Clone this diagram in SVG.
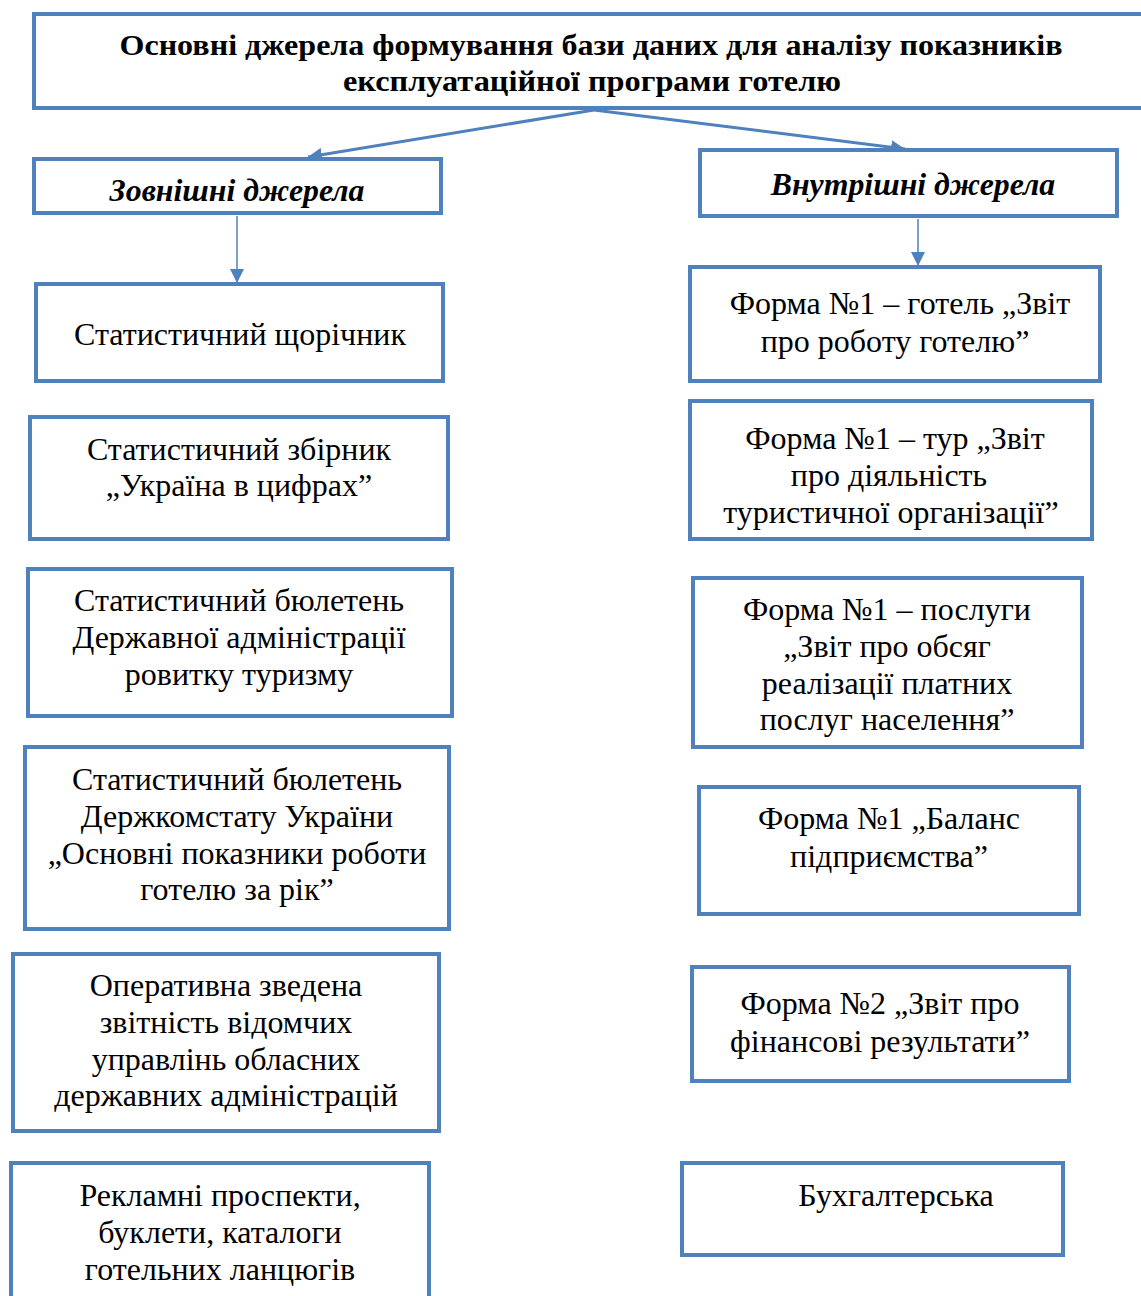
<svg xmlns="http://www.w3.org/2000/svg" width="1141" height="1296" viewBox="0 0 1141 1296">
<style>
.box{fill:#fff;stroke:#4f81bd;stroke-width:4}
.t{font-family:"Liberation Serif","Times New Roman",serif;font-size:32px;fill:#000;text-anchor:middle}
.h{font-family:"Liberation Serif","Times New Roman",serif;font-size:29px;font-weight:bold;fill:#000;text-anchor:middle}
.hi{font-family:"Liberation Serif","Times New Roman",serif;font-size:31.8px;font-weight:bold;font-style:italic;fill:#000;text-anchor:middle}
.c{stroke:#4f81bd;fill:none}
</style>
<defs>
<marker id="ah" viewBox="0 0 10 10" refX="10" refY="5" markerWidth="14" markerHeight="14" markerUnits="userSpaceOnUse" orient="auto">
<path d="M0,0 L10,5 L0,10 z" fill="#4f81bd"/>
</marker>
<clipPath id="cz"><rect x="36" y="161" width="403" height="50"/></clipPath>
<clipPath id="cr2"><rect x="692" y="403" width="398" height="134"/></clipPath>
</defs>
<rect width="1141" height="1296" fill="#fff"/>
<g id="connectors">
<line class="c" stroke-width="3" x1="594" y1="110" x2="308" y2="157" marker-end="url(#ah)"/>
<line class="c" stroke-width="3" x1="594" y1="110" x2="905" y2="149" marker-end="url(#ah)"/>
<line class="c" stroke-width="1.5" x1="237" y1="216" x2="237" y2="283" marker-end="url(#ah)"/>
<line class="c" stroke-width="1.5" x1="918" y1="219" x2="918" y2="266" marker-end="url(#ah)"/>
</g>
<g id="title">
<rect class="box" x="34" y="14" width="1120" height="94"/>
<text class="h" x="591" y="55" textLength="943" lengthAdjust="spacingAndGlyphs">Основні джерела формування бази даних для аналізу показників</text>
<text class="h" x="592" y="91" textLength="498" lengthAdjust="spacingAndGlyphs">експлуатаційної програми готелю</text>
</g>
<g id="external">
<rect class="box" x="34" y="159" width="407" height="54"/>
<text class="hi" x="237" y="201" clip-path="url(#cz)">Зовнішні джерела</text>
</g>
<g id="internal">
<rect class="box" x="700" y="150" width="417" height="66"/>
<text class="hi" x="913" y="195">Внутрішні джерела</text>
</g>
<g id="l1">
<rect class="box" x="36" y="284" width="407" height="97"/>
<text class="t" x="240" y="345">Статистичний щорічник</text>
</g>
<g id="l2">
<rect class="box" x="30" y="417" width="418" height="122"/>
<text class="t" x="239" y="460">Статистичний збірник</text>
<text class="t" x="239" y="496">„Україна в цифрах”</text>
</g>
<g id="l3">
<rect class="box" x="28" y="569" width="424" height="147"/>
<text class="t" x="239" y="611">Статистичний бюлетень</text>
<text class="t" x="239" y="648">Державної адміністрації</text>
<text class="t" x="239" y="685">ровитку туризму</text>
</g>
<g id="l4">
<rect class="box" x="25" y="747" width="424" height="182"/>
<text class="t" x="237" y="790">Статистичний бюлетень</text>
<text class="t" x="237" y="827">Держкомстату України</text>
<text class="t" x="237" y="864">„Основні показники роботи</text>
<text class="t" x="237" y="900">готелю за рік”</text>
</g>
<g id="l5">
<rect class="box" x="13" y="954" width="426" height="177"/>
<text class="t" x="226" y="996">Оперативна зведена</text>
<text class="t" x="226" y="1033">звітність відомчих</text>
<text class="t" x="226" y="1070">управлінь обласних</text>
<text class="t" x="226" y="1106">державних адміністрацій</text>
</g>
<g id="l6">
<rect class="box" x="11" y="1163" width="418" height="140"/>
<text class="t" x="220" y="1206">Рекламні проспекти,</text>
<text class="t" x="220" y="1243">буклети, каталоги</text>
<text class="t" x="220" y="1280">готельних ланцюгів</text>
</g>
<g id="r1">
<rect class="box" x="690" y="267" width="410" height="114"/>
<text class="t" x="900" y="314">Форма №1 – готель „Звіт</text>
<text class="t" x="895" y="352">про роботу готелю”</text>
</g>
<g id="r2">
<rect class="box" x="690" y="401" width="402" height="138"/>
<text class="t" x="895" y="449">Форма №1 – тур „Звіт</text>
<text class="t" x="889" y="486">про діяльність</text>
<text class="t" x="891" y="523" clip-path="url(#cr2)">туристичної організації”</text>
</g>
<g id="r3">
<rect class="box" x="693" y="578" width="389" height="169"/>
<text class="t" x="887" y="620">Форма №1 – послуги</text>
<text class="t" x="887" y="657">„Звіт про обсяг</text>
<text class="t" x="887" y="694">реалізації платних</text>
<text class="t" x="887" y="730">послуг населення”</text>
</g>
<g id="r4">
<rect class="box" x="699" y="787" width="380" height="127"/>
<text class="t" x="889" y="829">Форма №1 „Баланс</text>
<text class="t" x="889" y="867">підприємства”</text>
</g>
<g id="r5">
<rect class="box" x="692" y="967" width="377" height="114"/>
<text class="t" x="880" y="1014">Форма №2 „Звіт про</text>
<text class="t" x="880" y="1052">фінансові результати”</text>
</g>
<g id="r6">
<rect class="box" x="682" y="1163" width="381" height="92"/>
<text class="t" x="896" y="1206">Бухгалтерська</text>
</g>
</svg>
